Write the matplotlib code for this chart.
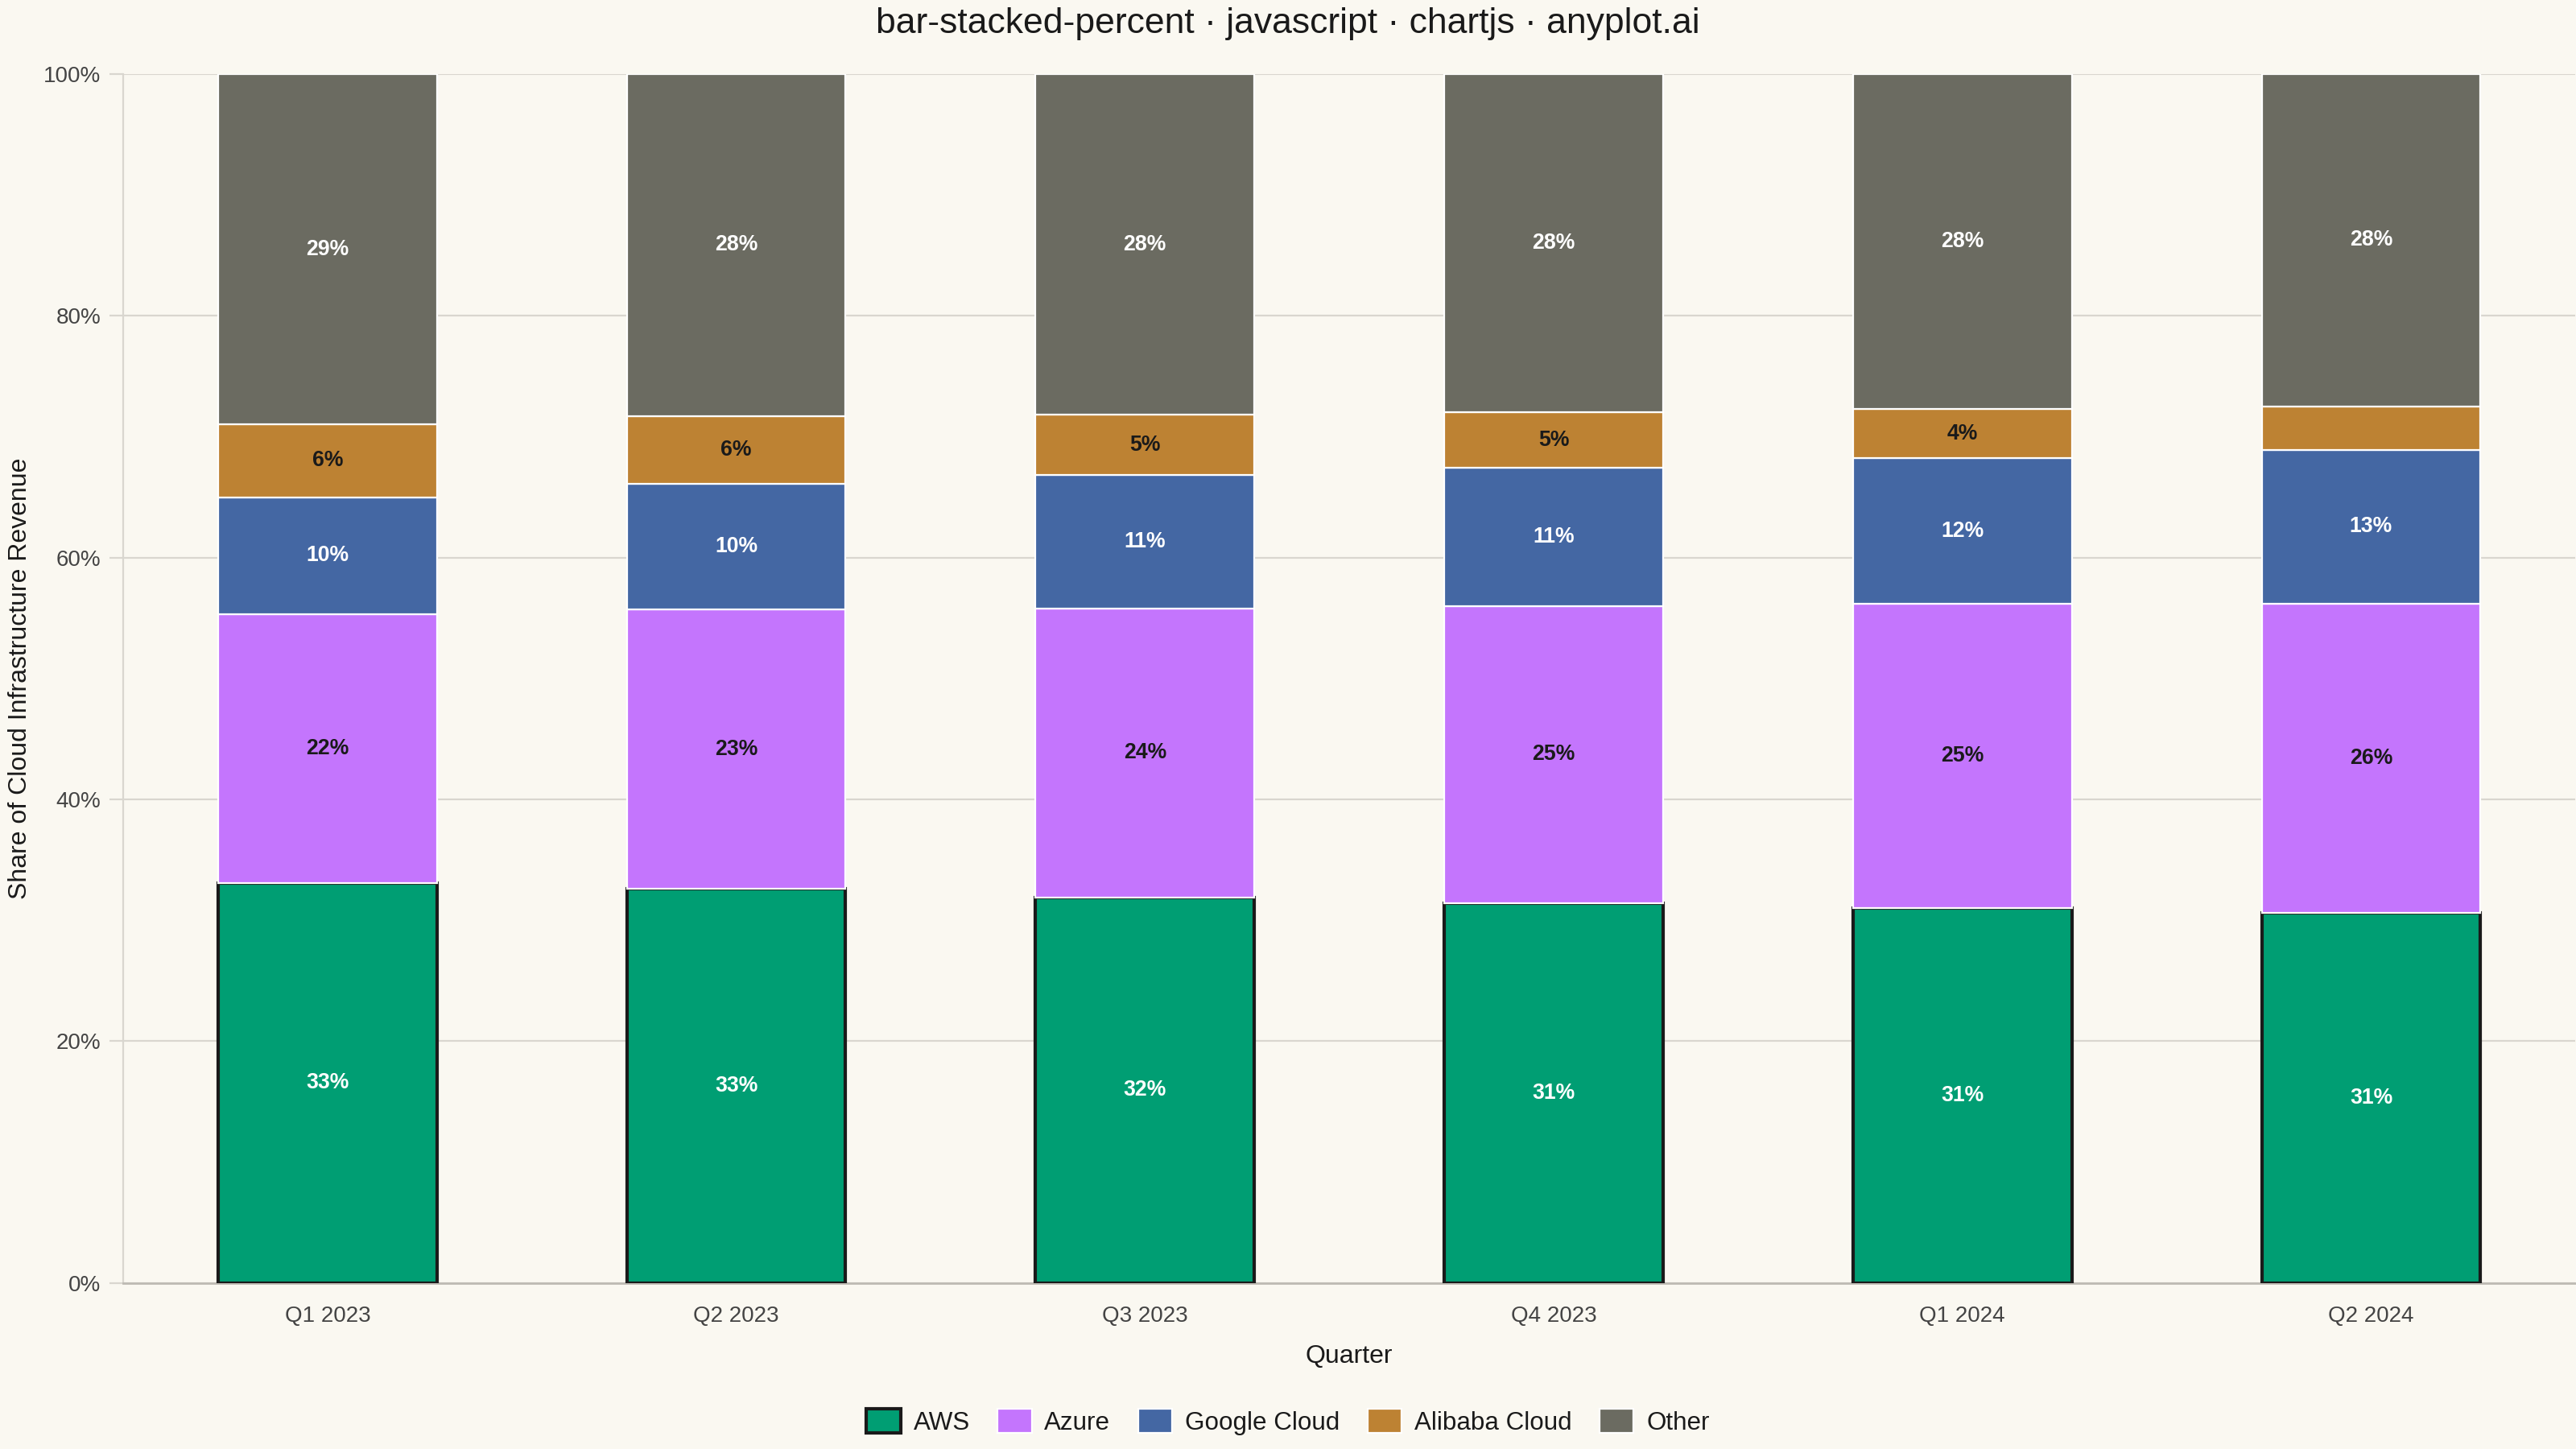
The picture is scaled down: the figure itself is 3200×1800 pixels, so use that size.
import matplotlib
matplotlib.use("Agg")
import matplotlib.pyplot as plt
import numpy as np

plt.rcParams['font.family'] = ['Liberation Sans', 'DejaVu Sans']

# Data (share of revenue, %)
quarters = ["Q1 2023", "Q2 2023", "Q3 2023", "Q4 2023", "Q1 2024", "Q2 2024"]
providers = ["AWS", "Azure", "Google Cloud", "Alibaba Cloud", "Other"]
aws = [33.1, 32.6, 31.9, 31.4, 31.0, 30.6]
azure = [22.2, 23.1, 23.9, 24.6, 25.2, 25.6]
google = [9.7, 10.4, 11.0, 11.4, 12.0, 12.7]
alibaba = [6.0, 5.6, 5.0, 4.6, 4.1, 3.6]
other = [29.0, 28.3, 28.2, 28.0, 27.7, 27.5]
y_ticks = [0, 20, 40, 60, 80, 100]
y_tick_labels = ["0%", "20%", "40%", "60%", "80%", "100%"]

series = [aws, azure, google, alibaba, other]
colors = ["#009E73", "#C475FD", "#4467A3", "#BD8233", "#6B6B61"]
label_colors = ["white", "#1a1a1a", "white", "#1a1a1a", "white"]

bg = "#FAF8F1"
fig = plt.figure(figsize=(16, 9), dpi=200, facecolor=bg)
ax = fig.add_axes([0.0478, 0.1145, 0.952, 0.8345])
ax.set_facecolor(bg)

x = np.arange(len(quarters))
totals = np.array([sum(s[j] for s in series) for j in range(len(quarters))])
bottom = np.zeros(len(quarters))
handles = []
for i, (name, vals) in enumerate(zip(providers, series)):
    pct = np.array(vals, dtype=float) / totals * 100
    if name == "AWS":
        ec, lw = "#1a1a1a", 1.5
    else:
        ec, lw = "white", 0.8
    bars = ax.bar(x, pct, bottom=bottom, width=0.535, color=colors[i],
                  edgecolor=ec, linewidth=lw, label=name, zorder=3)
    handles.append(bars)
    # skip labels on thin segments
    for j in range(len(quarters)):
        if pct[j] >= 3.9:
            ax.text(x[j], bottom[j] + pct[j] / 2, f"{pct[j]:.0f}%",
                    ha="center", va="center", fontsize=9.6, fontweight="bold",
                    color=label_colors[i], zorder=4)
    bottom += pct

ax.set_xlim(-0.5, len(quarters) - 0.5)
ax.set_ylim(0, 100)
ax.set_yticks(y_ticks)
ax.set_yticklabels(y_tick_labels)
ax.set_xticks(x)
ax.set_xticklabels(quarters)
ax.tick_params(axis="y", length=6, color="#d9d6cf", labelsize=10, labelcolor="#444444", pad=4)
ax.tick_params(axis="x", length=0, labelsize=10, labelcolor="#444444", pad=10)
ax.grid(axis="y", color="#d9d6cf", linewidth=0.8, zorder=0)

for s in ["top", "right"]:
    ax.spines[s].set_visible(False)
ax.spines["left"].set_color("#d9d6cf")
ax.spines["bottom"].set_color("#bdbab3")
ax.spines["left"].set_linewidth(0.8)
ax.spines["bottom"].set_linewidth(1.0)

ax.set_xlabel("Quarter", fontsize=11.5, color="#1a1a1a", labelpad=8)
ax.set_ylabel("Share of Cloud Infrastructure Revenue", fontsize=11.5, color="#1a1a1a", labelpad=5)

fig.suptitle("bar-stacked-percent · javascript · chartjs · anyplot.ai",
             fontsize=16, color="#1a1a1a", y=0.995, va="top")

fig.legend(handles=handles, labels=providers, loc="lower center", ncol=5,
           bbox_to_anchor=(0.5, -0.006), frameon=False, fontsize=11.3,
           handlelength=1.35, handleheight=1.1, handletextpad=0.5,
           columnspacing=1.1, labelcolor="#1a1a1a")

fig.savefig("out.png", dpi=200, facecolor=bg)
